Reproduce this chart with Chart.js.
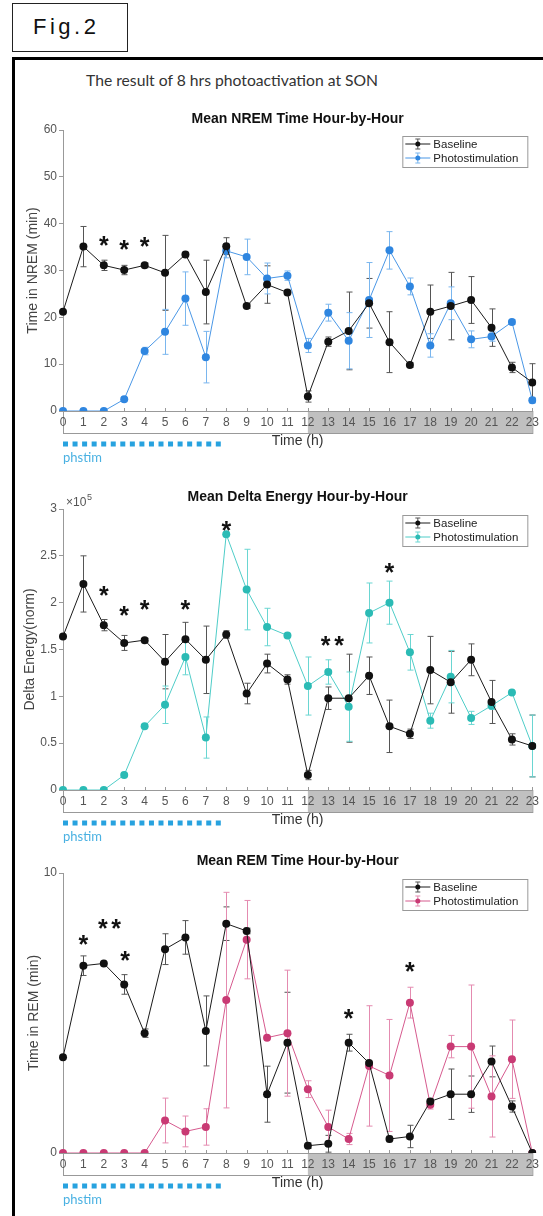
<!DOCTYPE html>
<html>
<head>
<meta charset="utf-8">
<script src="https://cdn.jsdelivr.net/npm/chart.js@4.4.0/dist/chart.umd.min.js"></script>
<style>
  body { margin: 0; width: 543px; height: 1216px; background: #fff; position: relative; overflow: hidden; font-family: Arial, "Liberation Sans", sans-serif; }
  #fig { position: absolute; left: 12px; top: 3px; width: 116px; height: 49px; box-sizing: border-box; border: 1.5px solid #222; font-size: 22px; letter-spacing: 3.5px; line-height: 46px; padding-left: 20px; color: #111; }
  #frame { position: absolute; left: 12px; top: 57px; width: 531px; height: 1159px; box-sizing: border-box; border-left: 3px solid #000; border-top: 3px solid #000; }
  #head { position: absolute; left: 86px; top: 71px; font-family: Lato, "Open Sans", sans-serif; font-size: 15.7px; color: #333; white-space: nowrap; }
  canvas { position: absolute; left: 0; }
</style>
</head>
<body>
<div id="fig">Fig.2</div>
<div id="frame"></div>
<div id="head">The result of 8 hrs photoactivation at SON</div>
<canvas id="c1" width="543" height="370" style="top:100px"></canvas>
<canvas id="c2" width="543" height="380" style="top:470px"></canvas>
<canvas id="c3" width="543" height="366" style="top:850px"></canvas>
<script>
// hours of the day
const hours = ['0','1','2','3','4','5','6','7','8','9','10','11','12','13','14','15','16','17','18','19','20','21','22','23'];

// NREM time (min)
const nremBase    = [21.2,35.1,31.1,30.1,31.1,29.5,33.4,25.4,35.2,22.4,27.0,25.3,3.1,14.8,17.1,23.0,14.7,9.8,21.2,22.4,23.7,17.8,9.3,6.1];
const nremBaseErr = [0,4.3,1.1,1.0,0.5,8.0,0.5,6.8,1.8,0.5,4.0,0.5,1.2,1.0,8.3,5.3,6.5,0.5,5.7,7.2,5.0,4.0,1.1,4.0];
const nremStim    = [0,0,0,2.5,12.8,16.9,24.0,11.5,34.2,32.9,28.3,28.9,14.0,21.0,15.0,23.7,34.3,26.6,14.0,23.0,15.3,15.9,19.0,2.3];
const nremStimErr = [0,0,0,0.3,0.8,4.8,5.7,5.5,1.5,3.8,3.3,1.0,1.5,1.8,6.0,8.0,4.0,1.8,2.5,3.5,1.8,1.0,0.5,0.6];
const nremStars   = [[2,36.4],[3,35.4],[4,36.0]];

// delta energy (x10^5)
const deltaBase    = [1.64,2.20,1.76,1.57,1.60,1.37,1.61,1.39,1.66,1.03,1.35,1.18,0.16,0.98,0.98,1.22,0.68,0.60,1.28,1.15,1.39,0.94,0.54,0.47];
const deltaBaseErr = [0,0.30,0.06,0.08,0.02,0.29,0.18,0.36,0.04,0.11,0.10,0.05,0.05,0.12,0.47,0.20,0.28,0.05,0.36,0.33,0.17,0.23,0.06,0.33];
const deltaStim    = [0,0,0,0.16,0.68,0.91,1.42,0.56,2.73,2.14,1.74,1.65,1.11,1.26,0.89,1.89,2.00,1.47,0.74,1.21,0.77,0.90,1.04,0.47];
const deltaStimErr = [0,0,0,0,0,0.20,0.19,0.22,0,0.43,0.20,0,0.31,0.13,0.37,0.32,0.23,0.19,0.08,0.28,0.07,0.04,0,0.33];
const deltaStars   = [[2,2.12],[3,1.91],[4,1.97],[6,1.97],[8,2.82],[12.87,1.59],[13.53,1.59],[16,2.37]];

// REM time (min)
const remBase    = [3.42,6.69,6.77,6.02,4.28,7.28,7.70,4.36,8.19,7.93,2.10,3.94,0.26,0.33,3.94,3.21,0.50,0.59,1.84,2.10,2.10,3.27,1.66,0];
const remBaseErr = [0,0.35,0,0.35,0.15,0.55,0.60,1.25,0.60,0.10,1.00,1.80,0.10,0.30,0.30,0,0.10,0.40,0.10,0.90,0.65,0.55,0.20,0];
const remStim    = [0,0,0,0,0,1.16,0.77,0.93,5.46,7.62,4.12,4.28,2.28,0.93,0.50,3.11,2.77,5.37,1.72,3.80,3.80,2.02,3.35,0];
const remStimErr = [0,0,0,0,0,0.80,0.55,0.65,3.85,1.40,0,2.25,0.30,0.60,0.20,2.15,2.00,0.55,0.15,0.40,2.20,1.45,1.40,0];
const remStars   = [[1,7.6],[1.95,8.17],[2.6,8.17],[3.05,7.03],[14,4.95],[17,6.65]];

// extras: grey band, error bars, stars, legend, phstim bar
const extras = {
  id: 'extras',
  beforeDraw(chart) {
    const {ctx, chartArea: a, scales: {x}} = chart;
    ctx.save();
    const x12 = x.getPixelForValue(12);
    ctx.fillStyle = '#c0c0c0';
    ctx.fillRect(x12, a.bottom, a.right - x12, 22);
    ctx.strokeStyle = '#999';
    ctx.lineWidth = 1;
    ctx.strokeRect(a.left + 0.5, a.bottom + 0.5, a.right - a.left, 22);
    // small inward ticks
    ctx.beginPath();
    for (let i = 0; i < hours.length; i++) {
      const px = Math.round(x.getPixelForValue(i)) + 0.5;
      ctx.moveTo(px, a.bottom);
      ctx.lineTo(px, a.bottom - 3);
    }
    ctx.stroke();
    ctx.restore();
  },
  beforeDatasetsDraw(chart, args, opts) {
    const {ctx, scales: {x, y}} = chart;
    ctx.save();
    ctx.lineWidth = 1;
    chart.data.datasets.forEach((ds, k) => {
      const err = opts.errors[k];
      ctx.strokeStyle = opts.errColors[k];
      ds.data.forEach((v, i) => {
        if (!err[i]) return;
        const px = Math.round(x.getPixelForValue(i)) + 0.5;
        const y1 = y.getPixelForValue(v - err[i]);
        const y2 = y.getPixelForValue(v + err[i]);
        ctx.beginPath();
        ctx.moveTo(px, y1); ctx.lineTo(px, y2);
        ctx.moveTo(px - 3, y1); ctx.lineTo(px + 3, y1);
        ctx.moveTo(px - 3, y2); ctx.lineTo(px + 3, y2);
        ctx.stroke();
      });
    });
    ctx.restore();
  },
  afterDraw(chart, args, opts) {
    const {ctx, chartArea: a, scales: {x, y}} = chart;
    ctx.save();
    // asterisks
    ctx.fillStyle = '#111';
    ctx.font = 'bold 25px Arial';
    ctx.textAlign = 'center';
    ctx.textBaseline = 'alphabetic';
    opts.stars.forEach(([h, v]) => {
      ctx.fillText('*', x.getPixelForValue(h), y.getPixelForValue(v) + 13);
    });
    // legend
    const lx = a.right - 130, ly = a.top + 6;
    ctx.fillStyle = '#fff';
    ctx.fillRect(lx, ly, 125, 31);
    ctx.strokeStyle = '#999';
    ctx.lineWidth = 1;
    ctx.strokeRect(lx + 0.5, ly + 0.5, 125, 31);
    chart.data.datasets.forEach((ds, k) => {
      const ry = ly + 8 + k * 14;
      ctx.strokeStyle = ds.borderColor;
      ctx.beginPath();
      ctx.moveTo(lx + 3, ry); ctx.lineTo(lx + 28, ry);
      ctx.stroke();
      ctx.strokeStyle = opts.errColors[k];
      ctx.beginPath();
      ctx.moveTo(lx + 15.5, ry - 5); ctx.lineTo(lx + 15.5, ry + 5);
      ctx.moveTo(lx + 13, ry - 5); ctx.lineTo(lx + 18, ry - 5);
      ctx.moveTo(lx + 13, ry + 5); ctx.lineTo(lx + 18, ry + 5);
      ctx.stroke();
      ctx.fillStyle = ds.pointBackgroundColor;
      ctx.beginPath();
      ctx.arc(lx + 15.5, ry, 2.5, 0, 2 * Math.PI);
      ctx.fill();
      ctx.fillStyle = '#222';
      ctx.font = '11.5px Arial';
      ctx.textAlign = 'left';
      ctx.textBaseline = 'middle';
      ctx.fillText(ds.label, lx + 31, ry + 1);
    });
    // photostimulation period
    ctx.strokeStyle = '#27a2df';
    ctx.lineWidth = 5;
    ctx.setLineDash([5, 4.55]);
    ctx.beginPath();
    ctx.moveTo(x.getPixelForValue(0), a.bottom + 33);
    ctx.lineTo(x.getPixelForValue(8) - 2, a.bottom + 33);
    ctx.stroke();
    ctx.setLineDash([]);
    ctx.fillStyle = '#4ab1e2';
    ctx.font = '13px Lato, "Open Sans", sans-serif';
    ctx.textAlign = 'left';
    ctx.textBaseline = 'middle';
    ctx.fillText('phstim', a.left, a.bottom + 47);
    // exponent label
    if (opts.exponent) {
      ctx.fillStyle = '#555';
      ctx.font = '12px Arial';
      ctx.textBaseline = 'alphabetic';
      ctx.fillText('\u00d710', a.left + 3, a.top - 3);
      ctx.font = '9px Arial';
      ctx.fillText('5', a.left + 24, a.top - 9);
    }
    ctx.restore();
  }
};

function makeChart(id, cfg) {
  const p1 = cfg.titleY - 8.4;
  const p2 = cfg.areaTop - p1 - 16.8;
  const el = document.getElementById(id);
  return new Chart(el, {
    type: 'line',
    data: {
      labels: hours,
      datasets: [
        { label: 'Baseline', data: cfg.base, borderColor: '#1a1a1a', pointBackgroundColor: '#111',
          borderWidth: 1, pointRadius: 4, pointBorderWidth: 0, tension: 0 },
        { label: 'Photostimulation', data: cfg.stim, borderColor: cfg.color, pointBackgroundColor: cfg.point,
          borderWidth: 1, pointRadius: 4, pointBorderWidth: 0, tension: 0 }
      ]
    },
    options: {
      responsive: false,
      animation: false,
      layout: { padding: { left: 0, right: 8, top: 0, bottom: el.height - cfg.areaBottom - 40 } },
      plugins: {
        legend: { display: false },
        tooltip: { enabled: false },
        title: {
          display: true, text: cfg.title, fullSize: false, color: '#111',
          font: { family: 'Arial', size: 14, weight: 'bold' },
          padding: { top: p1, bottom: p2 }
        },
        extras: { errors: [cfg.baseErr, cfg.stimErr], errColors: ['#555', cfg.err], stars: cfg.stars, exponent: cfg.exponent }
      },
      scales: {
        x: {
          afterFit: s => { s.height = 40; },
          grid: { display: false, drawTicks: false },
          border: { display: true, color: '#999' },
          ticks: { color: '#555', font: { family: 'Arial', size: 12 }, padding: 4, maxRotation: 0, autoSkip: false },
          title: { display: true, text: 'Time (h)', color: '#333', font: { family: 'Arial', size: 14 }, padding: { top: 0, bottom: 1.6 } }
        },
        y: {
          min: 0, max: cfg.max,
          afterFit: s => { s.width = 63; },
          grid: { drawOnChartArea: false, tickLength: 4, color: '#999' },
          border: { display: true, color: '#999' },
          ticks: { stepSize: cfg.step, color: '#555', font: { family: 'Arial', size: 12 }, padding: 2,
                   callback: v => String(+v.toFixed(2)) },
          title: { display: true, text: cfg.yTitle, color: '#444', font: { family: 'Arial', size: 14 }, padding: { top: cfg.yTitlePad, bottom: 0 } }
        }
      }
    },
    plugins: [extras]
  });
}

makeChart('c1', {
  title: 'Mean NREM Time Hour-by-Hour', yTitle: 'Time in NREM (min)', yTitlePad: 24.6,
  titleY: 19, areaTop: 30, areaBottom: 311, max: 60, step: 10,
  base: nremBase, baseErr: nremBaseErr, stim: nremStim, stimErr: nremStimErr, stars: nremStars,
  color: '#4a97e6', point: '#2f86e0', err: '#7ab6ee'
});
makeChart('c2', {
  title: 'Mean Delta Energy Hour-by-Hour', yTitle: 'Delta Energy(norm)', yTitlePad: 21.6,
  titleY: 27.3, areaTop: 39, areaBottom: 320, max: 3, step: 0.5, exponent: true,
  base: deltaBase, baseErr: deltaBaseErr, stim: deltaStim, stimErr: deltaStimErr, stars: deltaStars,
  color: '#4fcdc8', point: '#2bbbb5', err: '#6ad6d2'
});
makeChart('c3', {
  title: 'Mean REM Time Hour-by-Hour', yTitle: 'Time in REM (min)', yTitlePad: 25.6,
  titleY: 11, areaTop: 23, areaBottom: 303, max: 10, step: 10,
  base: remBase, baseErr: remBaseErr, stim: remStim, stimErr: remStimErr, stars: remStars,
  color: '#d65a8e', point: '#c93a74', err: '#e48bb0'
});
</script>
</body>
</html>
